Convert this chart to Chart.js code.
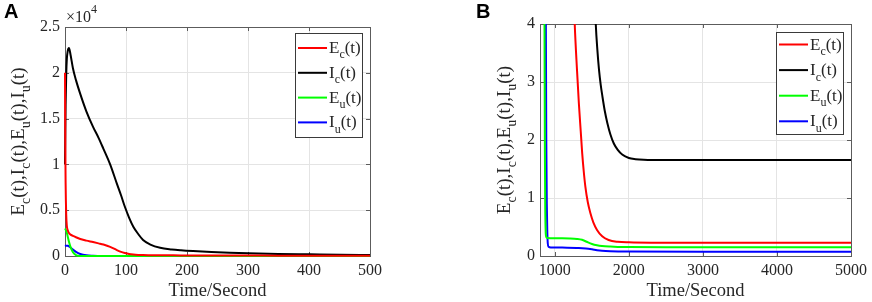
<!DOCTYPE html>
<html><head><meta charset="utf-8">
<script src="https://cdn.jsdelivr.net/npm/chart.js@4"></script>
<style>
html,body{margin:0;padding:0;background:#fff;}
#wrap{position:relative;width:872px;height:302px;overflow:hidden;background:#fff;}
canvas{position:absolute;top:0;}
#cA{left:0;} #cB{left:436px;}
</style></head>
<body><div id="wrap">
<canvas id="cA" width="436" height="302" style="width:436px;height:302px"></canvas>
<canvas id="cB" width="436" height="302" style="width:436px;height:302px"></canvas>
</div>
<script>
// ---------------- data ----------------
const seriesNames = ['E_c(t)', 'I_c(t)', 'E_u(t)', 'I_u(t)'];
const seriesColors = ['#ff0000', '#000000', '#00ff00', '#0000ff'];
const xTitle = 'Time/Second';

// Panel A (time in seconds, counts)
const tA  = [0,0.5,1,2,3,4.5,6.5,9,13,18,25,35,46,55,63,74,85,92,98,105,112,120,128,140,156,175,190,210,240,270,300,350,400,450,500];
const EcA = [20000,12000,8000,4500,3300,2800,2500,2330,2200,2050,1850,1680,1520,1380,1250,1000,650,450,330,220,160,120,100,90,80,72,66,60,55,50,46,40,36,32,30];
const IcA = [10000,13500,16500,19800,21500,22400,22700,22000,20500,19200,17700,15800,14100,12900,11700,10000,7900,6600,5400,4200,3200,2400,1750,1250,900,720,630,540,430,350,290,220,180,140,110];
const EuA = [3000,2950,2900,2750,2550,2100,1550,1000,420,100,10,0,0,0,0,0,0,0,0,0,0,0,0,0,0,0,0,0,0,0,0,0,0,0,0];
const IuA = [1100,1110,1120,1130,1130,1120,1060,920,700,450,220,70,20,5,0,0,0,0,0,0,0,0,0,0,0,0,0,0,0,0,0,0,0,0,0];
const xTicksA = [0,100,200,300,400,500];
const yTicksA = [0,0.5,1,1.5,2,2.5];   // in units of 10^4
const yScaleA = 10000;

// Panel B
const tEcB = [1240,1269,1300,1325,1350,1370,1390,1413,1445,1480,1520,1570,1640,1727,1850,2000,2300,3000,4000,5000];
const EcB  = [5.2,4.0,3.2,2.63,2.15,1.77,1.47,1.19,0.93,0.74,0.58,0.45,0.34,0.276,0.245,0.235,0.23,0.23,0.23,0.23];
const tIcB = [1530,1553,1575,1597,1620,1643,1675,1710,1750,1797,1850,1910,2000,2090,2200,2500,3000,4000,5000];
const IcB  = [4.8,4.0,3.55,3.21,2.95,2.75,2.5,2.29,2.1,1.94,1.83,1.75,1.69,1.67,1.66,1.655,1.655,1.655,1.655];
const tEuB = [845,860,866,871,876,884,900,1000,1100,1200,1300,1368,1430,1502,1570,1637,1750,1850,2000,2500,3000,4000,5000];
const EuB  = [6,4.3,1.8,0.8,0.45,0.33,0.31,0.305,0.305,0.303,0.295,0.28,0.245,0.207,0.185,0.172,0.162,0.157,0.155,0.153,0.153,0.153,0.153];
const tIuB = [860,878,885,892,898,905,915,950,1100,1323,1420,1502,1570,1637,1750,2000,3000,5000];
const IuB  = [6,4.3,2,0.9,0.45,0.22,0.16,0.148,0.145,0.14,0.13,0.115,0.1,0.09,0.082,0.077,0.075,0.075];
const xTicksB = [1000,2000,3000,4000,5000];
const yTicksB = [0,1,2,3,4];

// ---------------- helpers ----------------
const FONT = '"Liberation Serif","Times New Roman",serif';
const TXT = '#262626';
function parts(name){ const m = name.match(/^(.)_(.)(.*)$/); return [[m[1],0],[m[2],1],[m[3],0]]; }
function richWidth(ctx, p, size, sub){ let w=0; for(const [t,s] of p){ ctx.font=(s?sub:size)+'px '+FONT; w+=ctx.measureText(t).width; } return w; }
function drawRich(ctx, p, x, y, size, sub){ let cx=x; for(const [t,s] of p){ ctx.font=(s?sub:size)+'px '+FONT; ctx.fillText(t, cx, y+(s?size*0.32:0)); cx+=ctx.measureText(t).width; } return cx-x; }
function pts(xs, ys, k){ return xs.map((x,i)=>({x:x, y:ys[i]*(k||1)})); }

const panelPlugin = {
  id: 'panel',
  beforeDatasetsDraw(chart, args, o){
    const ctx = chart.ctx, a = chart.chartArea, xs = chart.scales.x, ys = chart.scales.y;
    ctx.save();
    ctx.strokeStyle = '#5c5c5c'; ctx.lineWidth = 1;
    ctx.strokeRect(a.left+0.5, a.top+0.5, a.right-a.left, a.bottom-a.top);
    ctx.beginPath();
    for (const t of xs.ticks){ const p = Math.round(xs.getPixelForValue(t.value))+0.5;
      ctx.moveTo(p, a.bottom); ctx.lineTo(p, a.bottom-4); ctx.moveTo(p, a.top); ctx.lineTo(p, a.top+4); }
    for (const t of ys.ticks){ const p = Math.round(ys.getPixelForValue(t.value))+0.5;
      ctx.moveTo(a.left, p); ctx.lineTo(a.left+4, p); ctx.moveTo(a.right, p); ctx.lineTo(a.right-4, p); }
    ctx.stroke();
    ctx.restore();
  },
  afterDraw(chart, args, o){
    const ctx = chart.ctx, a = chart.chartArea;
    ctx.save();
    // legend
    const bw = o.legW, bh = o.legH, bx = a.right - o.legInsetX - bw, by = a.top + o.legInsetY;
    ctx.fillStyle = '#fff'; ctx.fillRect(bx, by, bw, bh);
    ctx.strokeStyle = '#3a3a3a'; ctx.lineWidth = 1; ctx.strokeRect(bx+0.5, by+0.5, bw-1, bh-1);
    chart.data.datasets.forEach((d,i)=>{
      const yy = by + o.legFirst + i*o.legStep;
      ctx.strokeStyle = d.borderColor; ctx.lineWidth = 2;
      ctx.beginPath(); ctx.moveTo(bx+3, yy); ctx.lineTo(bx+32, yy); ctx.stroke();
      ctx.fillStyle = TXT; ctx.textBaseline = 'alphabetic'; ctx.textAlign = 'left';
      drawRich(ctx, parts(d.label), bx+34, yy+5, 17, 12);
    });
    // y title
    const yp = seriesNames.map(parts).reduce((acc,p,i)=>{ if(i) acc.push([',',0]); return acc.concat(p); }, []);
    ctx.fillStyle = TXT; ctx.textBaseline = 'alphabetic'; ctx.textAlign='left';
    const w = richWidth(ctx, yp, 19, 14);
    ctx.translate(o.yTitleX, (a.top+a.bottom)/2);
    ctx.rotate(-Math.PI/2);
    drawRich(ctx, yp, -w/2, 5, 19, 14);
    ctx.setTransform(1,0,0,1,0,0);
    // exponent
    if (o.exp){
      ctx.font = '16px '+FONT; ctx.fillText('\u00d710', a.left+1, a.top-5);
      const ew = ctx.measureText('\u00d710').width;
      ctx.font = '12px '+FONT; ctx.fillText('4', a.left+1+ew, a.top-14);
    }
    // panel letter
    ctx.font = 'bold 20px "Liberation Sans",Arial,sans-serif'; ctx.fillStyle = '#000';
    ctx.fillText(o.letter, o.letterX, 18);
    ctx.restore();
  }
};

function makeChart(id, sets, cfg){
  return new Chart(document.getElementById(id), {
    type: 'line',
    data: { datasets: sets.map((d,i)=>({ label: seriesNames[i], data: d, borderColor: seriesColors[i],
      borderWidth: 2, pointRadius: 0, fill: false, cubicInterpolationMode: 'monotone',
      clip: {left: 2, right: 2, top: 0, bottom: 2} })) },
    options: {
      responsive: false, animation: false, devicePixelRatio: 1,
      layout: { padding: { left: 0, top: cfg.top, right: cfg.right, bottom: 0 } },
      plugins: { legend: {display:false}, tooltip: {enabled:false}, panel: cfg.panel },
      scales: {
        x: { type: 'linear', min: cfg.xmin, max: cfg.xmax,
          afterBuildTicks: s => { s.ticks = cfg.xticks.map(v=>({value:v})); },
          afterFit: s => { s.height = 46; },
          grid: { color: '#e4e4e4', drawTicks: false, lineWidth: 1 }, border: { display: false },
          ticks: { font: { family: FONT, size: 16 }, color: TXT, padding: 5, maxRotation: 0, callback: v => String(v) },
          title: { display: true, text: xTitle, font: { family: FONT, size: 18.5 }, color: TXT, padding: {top:0, bottom:0} } },
        y: { type: 'linear', min: cfg.ymin, max: cfg.ymax,
          afterBuildTicks: s => { s.ticks = cfg.yticks.map(v=>({value:v*cfg.yk})); },
          afterFit: s => { s.width = cfg.yw; },
          grid: { color: '#e4e4e4', drawTicks: false, lineWidth: 1 }, border: { display: false },
          ticks: { font: { family: FONT, size: 16 }, color: TXT, padding: 5, callback: v => String(Math.round(v/cfg.yk*10)/10) } }
      }
    },
    plugins: [panelPlugin]
  });
}

makeChart('cA', [pts(tA,EcA), pts(tA,IcA), pts(tA,EuA), pts(tA,IuA)], {
  top: 27, right: 66, yw: 65, xmin: 0, xmax: 500, ymin: 0, ymax: 25000, yk: yScaleA,
  xticks: xTicksA, yticks: yTicksA,
  panel: { legW: 68, legH: 105, legInsetX: 7, legInsetY: 6, legFirst: 15, legStep: 24.8, yTitleX: 19, exp: true, letter: 'A', letterX: 4 }
});
makeChart('cB', [pts(tEcB,EcB), pts(tIcB,IcB), pts(tEuB,EuB), pts(tIuB,IuB)], {
  top: 24, right: 19, yw: 104, xmin: 800, xmax: 5000, ymin: 0, ymax: 4, yk: 1,
  xticks: xTicksB, yticks: yTicksB,
  panel: { legW: 68, legH: 103, legInsetX: 7, legInsetY: 8, legFirst: 12.5, legStep: 25.6, yTitleX: 69, exp: false, letter: 'B', letterX: 40 }
});
</script>
</body></html>
